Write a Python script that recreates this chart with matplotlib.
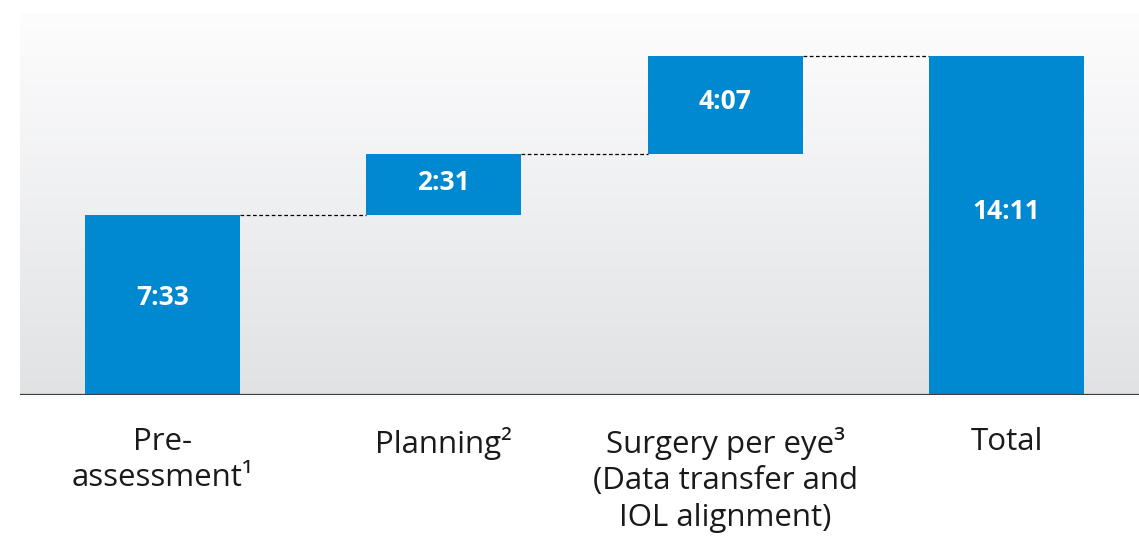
import numpy as np
import matplotlib.pyplot as plt
from matplotlib.colors import LinearSegmentedColormap

plt.rcParams['font.family'] = ['Open Sans', 'DejaVu Sans']

# durations in seconds
categories = ['Pre-\nassessment¹', 'Planning²',
              'Surgery per eye³\n(Data transfer and\nIOL alignment)', 'Total']
steps = [453, 151, 247]          # 7:33, 2:31, 4:07
total = sum(steps)               # 14:11

bar_color = '#0089d1'


def fmt(sec):
    return f'{sec // 60}:{sec % 60:02d}'


fig = plt.figure(figsize=(11.39, 5.39), dpi=100)
ax = fig.add_axes([20 / 1139, 144 / 539, 1 - 20 / 1139, 382 / 539])

# background gradient
cmap = LinearSegmentedColormap.from_list('bg', ['#e1e2e4', '#fdfdfe'])
grad = np.linspace(0, 1, 256).reshape(-1, 1)
ax.imshow(grad, cmap=cmap, aspect='auto', origin='lower',
          extent=[-0.5065, 3.471, 0, 959], zorder=0)

width = 0.551
bottoms = []
acc = 0
for s in steps:
    bottoms.append(acc)
    acc += s
bottoms.append(0)
heights = steps + [total]
x = np.arange(len(categories))

ax.bar(x, heights, bottom=bottoms, width=width, color=bar_color, zorder=2)

# connectors
tops = [b + h for b, h in zip(bottoms, heights)]
for i in range(len(x) - 1):
    ax.plot([x[i] + width / 2, x[i + 1] - width / 2], [tops[i], tops[i]],
            color='black', lw=0.9, ls=(0, (3, 2)), zorder=1)

# value labels
for xi, b, h in zip(x, bottoms, heights):
    ax.text(xi, b + h * 0.54, fmt(h), ha='center', va='center',
            color='white', fontsize=19, fontweight='bold', zorder=3)

ax.axhline(0, color='#3c3f42', lw=1.6, zorder=4)

ax.set_xlim(-0.5065, 3.471)
ax.set_ylim(0, 959)
ax.set_xticks(x)
ax.set_xticklabels(categories, fontsize=22.5, color='#1a1a1a', linespacing=1.28)
ax.tick_params(axis='x', length=0, pad=23)
ax.set_yticks([])
for sp in ax.spines.values():
    sp.set_visible(False)

fig.savefig('out.png', dpi=100)
